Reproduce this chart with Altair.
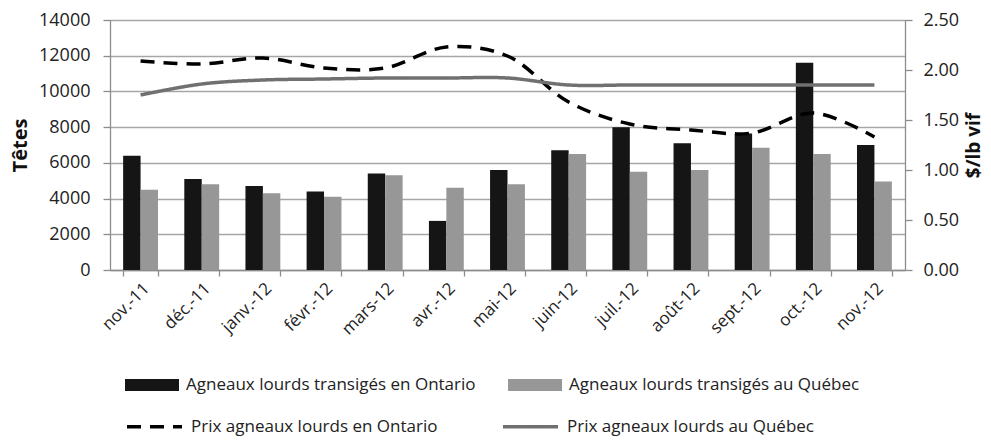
import altair as alt
import pandas as pd

months = ["nov.-11", "déc.-11", "janv.-12", "févr.-12", "mars-12", "avr.-12", "mai-12",
          "juin-12", "juil.-12", "août-12", "sept.-12", "oct.-12", "nov.-12"]
on_heads = [6400, 5100, 4700, 4400, 5400, 2750, 5600, 6700, 8000, 7100, 7650, 11600, 7000]
qc_heads = [4500, 4800, 4300, 4100, 5300, 4600, 4800, 6500, 5500, 5600, 6850, 6500, 4950]
on_price = [2.09, 2.06, 2.12, 2.02, 2.02, 2.23, 2.14, 1.68, 1.46, 1.40, 1.37, 1.57, 1.33]
qc_price = [1.75, 1.86, 1.90, 1.91, 1.92, 1.92, 1.92, 1.85, 1.85, 1.85, 1.85, 1.85, 1.85]

bar_series = ["Agneaux lourds transigés en Ontario", "Agneaux lourds transigés au Québec"]
line_series = ["Prix agneaux lourds en Ontario", "Prix agneaux lourds au Québec"]

bars_df = pd.DataFrame({
    "mois": months * 2,
    "serie": [bar_series[0]] * len(months) + [bar_series[1]] * len(months),
    "tetes": on_heads + qc_heads,
})
lines_df = pd.DataFrame({
    "mois": months * 2,
    "serie": [line_series[0]] * len(months) + [line_series[1]] * len(months),
    "prix": on_price + qc_price,
})

FONT = "Open Sans"
GRID = "#a6a6a6"
AXIS = "#8c8c8c"

x_enc = alt.X(
    "mois:N", sort=months,
    scale=alt.Scale(paddingInner=0.43, paddingOuter=0.215),
    axis=alt.Axis(title=None, labelAngle=-45, tickBand="extent", tickSize=6,
                  labelPadding=4, labelFontSize=17, labelFont=FONT, labelColor="#222222",
                  domainColor=AXIS, tickColor=AXIS, domainWidth=1.3, tickWidth=1.3, grid=False),
)

line_legend = dict(title=None, orient="none", legendX=15, legendY=377,
                   direction="horizontal", columns=2, columnPadding=58,
                   symbolType="stroke", symbolSize=3025,
                   symbolStrokeWidth=3.5, labelOffset=7,
                   labelFont=FONT, labelFontSize=17, labelColor="#222222",
                   labelLimit=600)

bars = alt.Chart(bars_df).mark_bar().encode(
    x=x_enc,
    xOffset=alt.XOffset("serie:N", sort=bar_series, scale=alt.Scale(paddingInner=0.0)),
    y=alt.Y("tetes:Q", scale=alt.Scale(domain=[0, 14000], nice=False),
            axis=alt.Axis(title="Têtes", values=list(range(0, 14001, 2000)), format="d",
                          grid=True, gridColor=GRID, gridWidth=1.3,
                          tickSize=7, labelPadding=13, labelFontSize=18, labelFont=FONT,
                          labelColor="#222222", domainColor=AXIS, tickColor=AXIS,
                          domainWidth=1.3, tickWidth=1.3,
                          titleFont=FONT, titleFontSize=20, titleFontWeight="bold",
                          titleColor="#111111", titlePadding=8)),
    fill=alt.Fill("serie:N", scale=alt.Scale(domain=bar_series, range=["#151515", "#979797"]),
                  legend=alt.Legend(title=None, orient="none", legendX=15, legendY=338,
                                    direction="horizontal", columns=2, columnPadding=32,
                                    symbolType="M-1,-0.22L1,-0.22L1,0.22L-1,0.22Z",
                                    symbolSize=2916, symbolStrokeWidth=0, labelOffset=7,
                                    labelFont=FONT, labelFontSize=17, labelColor="#222222",
                                    labelLimit=600)),
)

lines = alt.Chart(lines_df).mark_line(strokeWidth=3.5, interpolate="catmull-rom").encode(
    x=x_enc,
    y=alt.Y("prix:Q", scale=alt.Scale(domain=[0, 2.5], nice=False),
            axis=alt.Axis(title="$/lb vif", orient="right", values=[0, 0.5, 1, 1.5, 2, 2.5],
                          format=".2f", grid=False, tickSize=7, labelPadding=11,
                          labelFontSize=18, labelFont=FONT, labelColor="#222222",
                          domainColor=AXIS, tickColor=AXIS, domainWidth=1.3, tickWidth=1.3,
                          titleFont=FONT, titleFontSize=19, titleFontWeight="bold",
                          titleColor="#111111", titleAngle=270, titleX=59, titleY=125,
                          titleAlign="center", titleBaseline="top")),
    stroke=alt.Stroke("serie:N", scale=alt.Scale(domain=line_series, range=["#000000", "#707070"]),
                      legend=alt.Legend(**line_legend)),
    strokeDash=alt.StrokeDash("serie:N", scale=alt.Scale(domain=line_series, range=[[14, 9], [1, 0]]),
                              legend=alt.Legend(**line_legend)),
)

chart = alt.layer(bars, lines).resolve_scale(y="independent").properties(
    width=795, height=250, autosize="none",
    padding={"left": 102, "top": 12, "right": 78, "bottom": 166},
).configure_view(stroke=None).configure(background="white")

chart.save("out.html", embed_options={"renderer": "svg", "actions": False})
